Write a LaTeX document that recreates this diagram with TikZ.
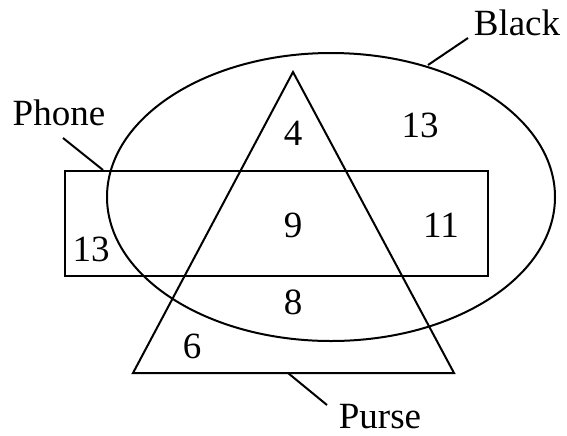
\documentclass[tikz,border=0pt]{standalone}
\usepackage{fontspec}
\setmainfont{Liberation Serif}

\begin{document}
\begin{tikzpicture}[x=0.5pt, y=-0.5pt, line width=1pt,
    every node/.style={font=\fontsize{18.5}{22}\selectfont, inner sep=0pt}]
    \useasboundingbox (0,0) rectangle (567,435);

    % Draw the three sets
    \draw (331,197) ellipse [x radius=224, y radius=144];
    \draw (65,171) rectangle (488,276);
    \coordinate (T) at (293,72);
    \coordinate (BL) at (133,373);
    \coordinate (BR) at (454,373);
    \draw (T) -- (BL) -- (BR) -- cycle;

    % Set labels
    \node[anchor=base] (black) at (517,35) {Black};
    \node[anchor=base] (phone) at (59,125) {Phone};
    \node[anchor=base] (purse) at (380,428) {Purse};

    \coordinate (kA) at (428,65);
    \coordinate (kB) at (468,38);
    \draw (kA) -- (kB);
    \coordinate (pA) at (63,138);
    \coordinate (pB) at (103,170);
    \draw (pA) -- (pB);
    \coordinate (uA) at (288,373);
    \coordinate (uB) at (327,405);
    \draw (uA) -- (uB);

    % Region counts
    \node (n4) at (293,133) {4};
    \node (n13a) at (420,125) {13};
    \node (n9) at (293,225) {9};
    \node (n11) at (441,225) {11};
    \node (n13b) at (91,249) {13};
    \node (n8) at (293,302) {8};
    \node (n6) at (192,346) {6};

\end{tikzpicture}
\end{document}
